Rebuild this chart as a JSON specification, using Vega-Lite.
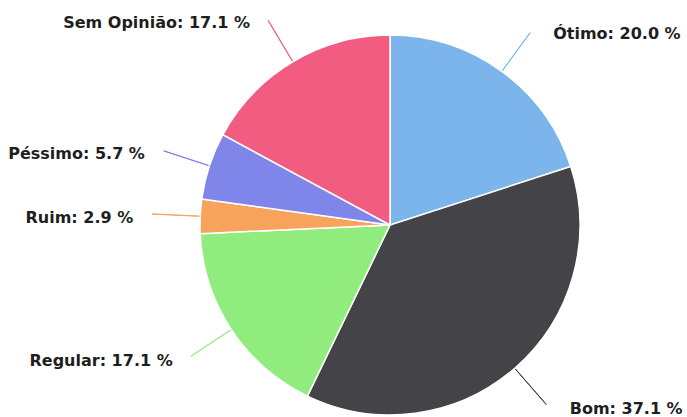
{
  "$schema": "https://vega.github.io/schema/vega-lite/v6.json",
  "width": 594,
  "height": 384,
  "autosize": {"type": "none"},
  "padding": {"left": 93, "top": 33, "right": 0, "bottom": 0},
  "background": "white",
  "config": {"view": {"stroke": null}},
  "data": {"values": [
    {"ord": 1, "categoria": "Ótimo", "pct": 20.0},
    {"ord": 2, "categoria": "Bom", "pct": 37.1},
    {"ord": 3, "categoria": "Regular", "pct": 17.1},
    {"ord": 4, "categoria": "Ruim", "pct": 2.9},
    {"ord": 5, "categoria": "Péssimo", "pct": 5.7},
    {"ord": 6, "categoria": "Sem Opinião", "pct": 17.1}
  ]},
  "transform": [
    {"stack": "pct", "groupby": [], "sort": [{"field": "ord", "order": "ascending"}], "as": ["s0", "s1"]},
    {"calculate": "(datum.s0 + datum.s1) / 2", "as": "mid"},
    {"calculate": "datum.mid + 0.02", "as": "mid2"},
    {"calculate": "datum.categoria + ': ' + format(datum.pct, '.1f') + ' %'", "as": "rotulo"}
  ],
  "encoding": {
    "color": {
      "field": "categoria", "type": "nominal", "legend": null,
      "scale": {
        "domain": ["Ótimo", "Bom", "Regular", "Ruim", "Péssimo", "Sem Opinião"],
        "range": ["#7cb5ec", "#434348", "#90ed7d", "#f7a35c", "#8085e9", "#f15c80"]
      }
    }
  },
  "layer": [
    {
      "mark": {"type": "arc", "outerRadius": 190, "stroke": "white", "strokeWidth": 1.5},
      "encoding": {
        "theta": {"field": "s0", "type": "quantitative", "stack": null, "scale": {"domain": [0, 99.9]}},
        "theta2": {"field": "s1"}
      }
    },
    {
      "mark": {"type": "arc", "filled": false, "innerRadius": 191, "outerRadius": 238, "strokeWidth": 1},
      "encoding": {
        "theta": {"field": "mid", "type": "quantitative", "stack": null, "scale": {"domain": [0, 99.9]}},
        "theta2": {"field": "mid2"}
      }
    },
    {
      "transform": [{"filter": "datum.mid < 50"}],
      "mark": {"type": "text", "radius": 240, "align": "left", "baseline": "middle", "dx": 22, "dy": 3, "font": "DejaVu Sans", "fontWeight": "bold", "fontSize": 16, "color": "#1e1e1e"},
      "encoding": {
        "theta": {"field": "mid", "type": "quantitative", "stack": null, "scale": {"domain": [0, 99.9]}},
        "text": {"field": "rotulo"},
        "color": {"value": "#1e1e1e"}
      }
    },
    {
      "transform": [{"filter": "datum.mid >= 50"}],
      "mark": {"type": "text", "radius": 240, "align": "right", "baseline": "middle", "dx": -17, "dy": 4, "font": "DejaVu Sans", "fontWeight": "bold", "fontSize": 16, "color": "#1e1e1e"},
      "encoding": {
        "theta": {"field": "mid", "type": "quantitative", "stack": null, "scale": {"domain": [0, 99.9]}},
        "text": {"field": "rotulo"},
        "color": {"value": "#1e1e1e"}
      }
    }
  ]
}
